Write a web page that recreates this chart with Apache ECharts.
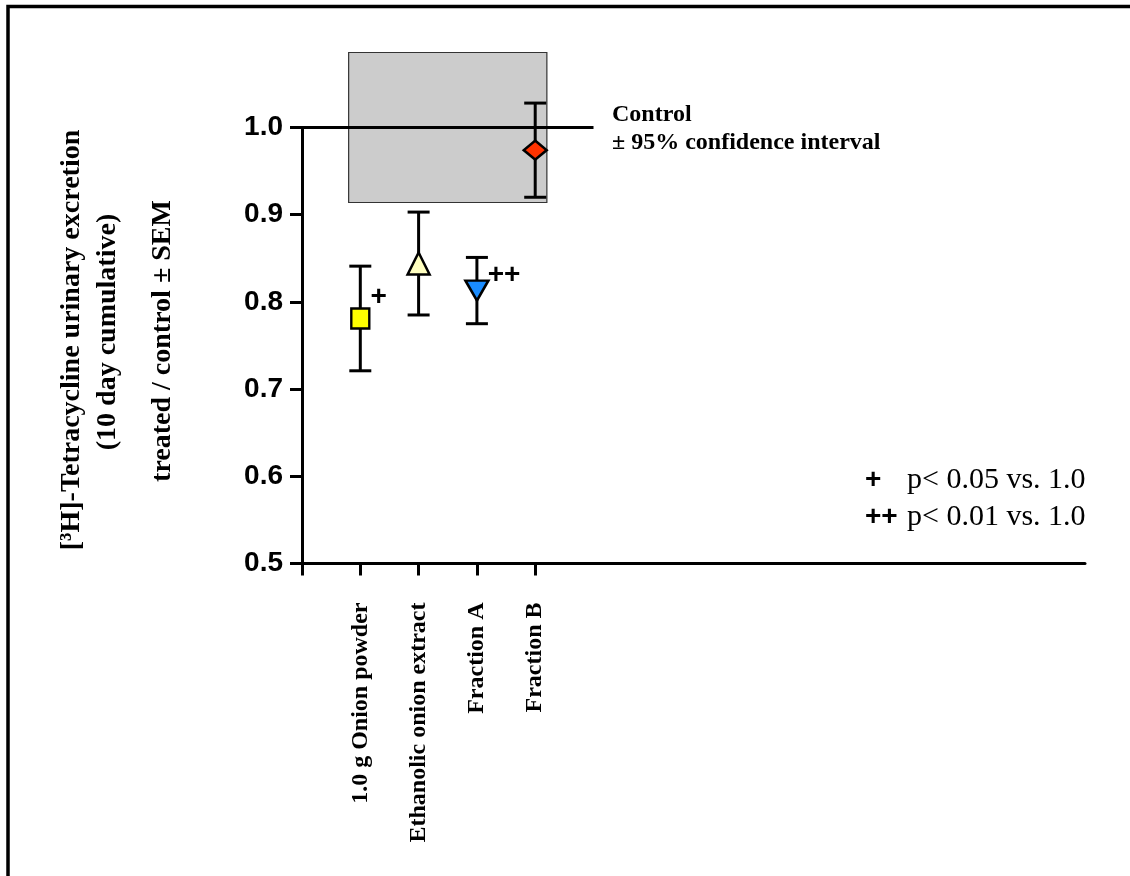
<!DOCTYPE html>
<html>
<head>
<meta charset="utf-8">
<script src="https://cdn.jsdelivr.net/npm/echarts@6/dist/echarts.min.js"></script>
<style>
html,body{margin:0;padding:0;background:#fff;}
#chart{width:1130px;height:876px;}
</style>
</head>
<body>
<div id="chart"></div>
<script>
// ---- data ----
const categories = ['1.0 g Onion powder', 'Ethanolic onion extract', 'Fraction A', 'Fraction B'];
const xPositions = [1, 2, 3, 4];
const means = [0.781, 0.844, 0.813, 0.974];
const sems = [0.060, 0.059, 0.038, 0.054];
const significance = ['+', '', '++', ''];
const controlValue = 1.0;
const controlLineX = [0, 5];
const controlBandX = [0.8, 4.2];
const controlBandY = [0.914, 1.086];
const yTickRange = [0.5, 1.0, 0.1];
const xRange = [0, 13.43];

// ---- styles ----
const symbols = ['rect', 'triangle', 'triangle', 'diamond'];
const symbolRotates = [0, 0, 180, 0];
const symbolSizes = [[18, 20], [22, 22], [23, 20], [23, 19]];
const fills = ['#ffff00', '#ffffc0', '#1a8cff', '#ff3300'];
const sigOffsets = [[0, -21], [0, 0], [-2, -15], [0, 0]];

const serif = '"Liberation Serif", "Times New Roman", serif';
const sans = '"Liberation Sans", Arial, sans-serif';

const chart = echarts.init(document.getElementById('chart'), null, {renderer: 'canvas'});

const pointData = xPositions.map((x, i) => ({
  value: [x, means[i]],
  symbol: symbols[i],
  symbolSize: symbolSizes[i],
  symbolRotate: symbolRotates[i],
  itemStyle: {color: fills[i], borderColor: '#000', borderWidth: 2.5, opacity: 1},
  label: {
    show: significance[i] !== '',
    formatter: significance[i],
    position: 'right',
    distance: 0,
    offset: sigOffsets[i],
    color: '#000',
    opacity: 1,
    fontFamily: sans,
    fontWeight: 'bold',
    fontSize: 28
  }
}));

const errData = xPositions.map((x, i) => [x, means[i] - sems[i], means[i] + sems[i]]);

const option = {
  animation: false,
  backgroundColor: '#fff',
  grid: {left: 302, right: 45, top: 127.5, bottom: 312.5},
  xAxis: {
    type: 'value',
    min: xRange[0],
    max: xRange[1],
    splitLine: {show: false},
    axisLine: {show: true, onZero: false, lineStyle: {color: '#000', width: 3}},
    axisTick: {show: true, length: 12, lineStyle: {color: '#000', width: 3}, customValues: [0].concat(xPositions)},
    axisLabel: {
      show: true,
      customValues: xPositions,
      rotate: 90,
      margin: 39,
      formatter: v => {
        const idx = xPositions.indexOf(Math.round(v));
        return idx >= 0 ? categories[idx] : '';
      },
      fontFamily: serif,
      fontWeight: 'bold',
      fontSize: 24,
      color: '#000'
    }
  },
  yAxis: {
    type: 'value',
    min: yTickRange[0],
    max: yTickRange[1],
    interval: yTickRange[2],
    splitLine: {show: false},
    axisLine: {show: true, onZero: false, lineStyle: {color: '#000', width: 3}},
    axisTick: {show: true, length: 12, lineStyle: {color: '#000', width: 3}},
    axisLabel: {
      margin: 19,
      formatter: v => v.toFixed(1),
      fontFamily: sans,
      fontWeight: 'bold',
      fontSize: 28,
      color: '#000'
    }
  },
  series: [
    {
      type: 'custom',
      name: 'band',
      z: 1,
      clip: false,
      data: [[controlBandX[0], controlBandX[1], controlBandY[0], controlBandY[1]]],
      renderItem: (params, api) => {
        const p1 = api.coord([api.value(0), api.value(3)]);
        const p2 = api.coord([api.value(1), api.value(2)]);
        return {
          type: 'rect',
          shape: {x: p1[0], y: p1[1], width: p2[0] - p1[0], height: p2[1] - p1[1]},
          style: {fill: '#cccccc', stroke: '#333333', lineWidth: 1.2}
        };
      }
    },
    {
      type: 'custom',
      name: 'control',
      z: 2,
      clip: false,
      data: [[controlLineX[0], controlLineX[1], controlValue]],
      renderItem: (params, api) => {
        const a = api.coord([api.value(0), api.value(2)]);
        const b = api.coord([api.value(1), api.value(2)]);
        return {
          type: 'line',
          shape: {x1: a[0], y1: a[1], x2: b[0], y2: b[1]},
          style: {stroke: '#000', lineWidth: 3}
        };
      }
    },
    {
      type: 'custom',
      name: 'sem',
      z: 3,
      clip: false,
      data: errData,
      renderItem: (params, api) => {
        const lo = api.coord([api.value(0), api.value(1)]);
        const hi = api.coord([api.value(0), api.value(2)]);
        const hw = 11;
        const st = {stroke: '#000', lineWidth: 3};
        return {
          type: 'group',
          children: [
            {type: 'line', shape: {x1: lo[0], y1: lo[1], x2: hi[0], y2: hi[1]}, style: st},
            {type: 'line', shape: {x1: lo[0] - hw, y1: lo[1], x2: lo[0] + hw, y2: lo[1]}, style: st},
            {type: 'line', shape: {x1: hi[0] - hw, y1: hi[1], x2: hi[0] + hw, y2: hi[1]}, style: st}
          ]
        };
      }
    },
    {
      type: 'scatter',
      name: 'means',
      z: 5,
      clip: false,
      itemStyle: {opacity: 1},
      data: pointData
    }
  ],
  graphic: [
    {
      type: 'polyline',
      z: 100,
      shape: {points: [[8, 876], [8, 6.5], [1130, 6.5]]},
      style: {stroke: '#000', lineWidth: 3.5, fill: null}
    },
    {
      type: 'text', x: 72, y: 340, rotation: Math.PI / 2,
      style: {text: '[\u00B3H]-Tetracycline urinary excretion', x: 0, y: 0, align: 'center', verticalAlign: 'middle', textAlign: 'center', textVerticalAlign: 'middle', font: 'bold 28px ' + serif, fill: '#000'}
    },
    {
      type: 'text', x: 108, y: 332, rotation: Math.PI / 2,
      style: {text: '(10 day cumulative)', x: 0, y: 0, align: 'center', verticalAlign: 'middle', textAlign: 'center', textVerticalAlign: 'middle', font: 'bold 28px ' + serif, fill: '#000'}
    },
    {
      type: 'text', x: 163, y: 341, rotation: Math.PI / 2,
      style: {text: 'treated / control \u00B1 SEM', x: 0, y: 0, align: 'center', verticalAlign: 'middle', textAlign: 'center', textVerticalAlign: 'middle', font: 'bold 28px ' + serif, fill: '#000'}
    },
    {
      type: 'text', x: 612, y: 115,
      style: {text: 'Control', x: 0, y: 0, align: 'left', verticalAlign: 'middle', textAlign: 'left', textVerticalAlign: 'middle', font: 'bold 24px ' + serif, fill: '#000'}
    },
    {
      type: 'text', x: 612, y: 143,
      style: {text: '\u00B1 95% confidence interval', x: 0, y: 0, align: 'left', verticalAlign: 'middle', textAlign: 'left', textVerticalAlign: 'middle', font: 'bold 24px ' + serif, fill: '#000'}
    },
    {
      type: 'text', x: 865, y: 480,
      style: {text: '+', x: 0, y: 0, align: 'left', verticalAlign: 'middle', textAlign: 'left', textVerticalAlign: 'middle', font: 'bold 28px ' + sans, fill: '#000'}
    },
    {
      type: 'text', x: 907, y: 480,
      style: {text: 'p< 0.05 vs. 1.0', x: 0, y: 0, align: 'left', verticalAlign: 'middle', textAlign: 'left', textVerticalAlign: 'middle', font: '30px ' + serif, fill: '#000'}
    },
    {
      type: 'text', x: 865, y: 517,
      style: {text: '++', x: 0, y: 0, align: 'left', verticalAlign: 'middle', textAlign: 'left', textVerticalAlign: 'middle', font: 'bold 28px ' + sans, fill: '#000'}
    },
    {
      type: 'text', x: 907, y: 517,
      style: {text: 'p< 0.01 vs. 1.0', x: 0, y: 0, align: 'left', verticalAlign: 'middle', textAlign: 'left', textVerticalAlign: 'middle', font: '30px ' + serif, fill: '#000'}
    }
  ]
};

chart.setOption(option);
</script>
</body>
</html>
